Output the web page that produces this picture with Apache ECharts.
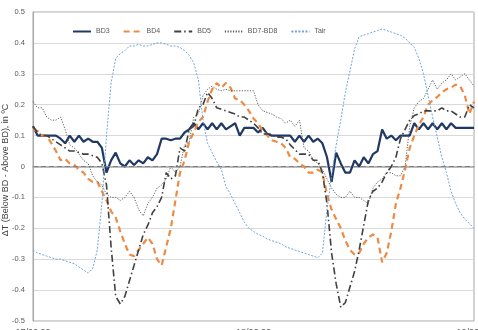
<!DOCTYPE html>
<html>
<head>
<meta charset="utf-8">
<script src="https://cdn.jsdelivr.net/npm/echarts@6/dist/echarts.min.js"></script>
<style>
  html, body { margin: 0; padding: 0; background: #fff; }
  #chart { width: 478px; height: 330px; }
</style>
</head>
<body>
<div id="chart"></div>
<script>
// half-hour samples over two days
var hours = Array.from({length: 97}, (_, i) => i * 0.5)
var xTickLabels = ['17/06 00', '18/06 00', '19/06 00']
var yTitle = 'ΔT (Below BD - Above BD), in ºC'

var bd3 = [0.13, 0.10, 0.10, 0.10, 0.10, 0.10, 0.09, 0.075, 0.10, 0.08, 0.10, 0.08, 0.09, 0.08, 0.08, 0.06,
  -0.02, 0.02, 0.045, 0.01, 0.0, 0.02, 0.005, 0.02, 0.01, 0.03, 0.02, 0.04, 0.09, 0.09, 0.085, 0.09,
  0.09, 0.11, 0.12, 0.14, 0.12, 0.14, 0.12, 0.14, 0.12, 0.14, 0.12, 0.13, 0.14, 0.10, 0.125, 0.125,
  0.125, 0.11, 0.125, 0.105, 0.10, 0.10, 0.10, 0.10, 0.10, 0.08, 0.10, 0.08, 0.10, 0.08, 0.09, 0.075,
  0.03, -0.05, 0.045, 0.01, -0.02, -0.02, 0.02, 0.0, 0.03, 0.01, 0.04, 0.05, 0.12, 0.09, 0.10, 0.085,
  0.10, 0.10, 0.10, 0.14, 0.12, 0.14, 0.12, 0.14, 0.12, 0.14, 0.12, 0.14, 0.125, 0.125, 0.125, 0.125, 0.125]

var bd4 = [0.12, 0.115, 0.10, 0.10, 0.075, 0.05, 0.02, 0.025, 0.01, 0.005, -0.01, -0.02, -0.04, -0.05, -0.05, -0.08,
  -0.11, -0.145, -0.165, -0.21, -0.25, -0.285, -0.29, -0.27, -0.25, -0.23, -0.25, -0.30, -0.32, -0.26, -0.20, -0.11,
  -0.02, 0.02, 0.08, 0.11, 0.145, 0.16, 0.21, 0.25, 0.27, 0.255, 0.27, 0.255, 0.22, 0.215, 0.20, 0.18,
  0.155, 0.14, 0.115, 0.10, 0.085, 0.08, 0.075, 0.06, 0.03, 0.025, 0.01, 0.0, -0.02, -0.02, -0.01, -0.02,
  -0.09, -0.14, -0.17, -0.20, -0.24, -0.27, -0.285, -0.28, -0.25, -0.23, -0.22, -0.23, -0.31, -0.28, -0.21, -0.12,
  -0.07, -0.01, 0.06, 0.10, 0.135, 0.16, 0.20, 0.215, 0.225, 0.24, 0.25, 0.255, 0.265, 0.26, 0.23, 0.17, 0.21]

var bd5 = [0.13, 0.11, 0.10, 0.10, 0.09, 0.08, 0.07, 0.06, 0.05, 0.05, 0.045, 0.04, 0.04, 0.035, 0.03, 0.01,
  -0.06, -0.26, -0.42, -0.445, -0.42, -0.37, -0.32, -0.27, -0.22, -0.19, -0.15, -0.13, -0.10, -0.02, -0.04, -0.03,
  0.06, 0.05, 0.12, 0.13, 0.19, 0.20, 0.24, 0.22, 0.19, 0.185, 0.18, 0.175, 0.17, 0.16, 0.16, 0.15,
  0.14, 0.125, 0.105, 0.105, 0.105, 0.095, 0.095, 0.09, 0.07, 0.055, 0.04, 0.04, 0.04, 0.02, 0.02, -0.02,
  -0.12, -0.28, -0.38, -0.455, -0.44, -0.39, -0.34, -0.27, -0.19, -0.11, -0.08, -0.07, -0.05, -0.02, 0.0, 0.03,
  0.09, 0.12, 0.15, 0.165, 0.17, 0.18, 0.18, 0.18, 0.18, 0.19, 0.18, 0.18, 0.17, 0.16, 0.16, 0.20, 0.19]

var bd78 = [0.21, 0.19, 0.19, 0.16, 0.15, 0.15, 0.16, 0.12, 0.07, 0.06, 0.04, 0.02, 0.01, -0.03, -0.05, -0.06,
  -0.09, -0.10, -0.10, -0.11, -0.10, -0.08, -0.10, -0.14, -0.16, -0.12, -0.10, -0.07, -0.06, -0.04, 0.0, -0.02,
  0.0, 0.07, 0.08, 0.16, 0.17, 0.23, 0.25, 0.26, 0.25, 0.245, 0.25, 0.245, 0.245, 0.245, 0.245, 0.245,
  0.245, 0.20, 0.18, 0.175, 0.17, 0.16, 0.155, 0.14, 0.15, 0.13, 0.15, 0.06, 0.05, 0.02, 0.01, -0.01,
  -0.04, -0.07, -0.09, -0.10, -0.10, -0.08, -0.10, -0.10, -0.11, -0.12, -0.07, -0.05, -0.04, -0.02, -0.02, -0.03,
  -0.03, 0.0, 0.13, 0.19, 0.21, 0.22, 0.25, 0.28, 0.25, 0.27, 0.28, 0.30, 0.28, 0.29, 0.30, 0.28, 0.26]

var tair = [-0.27, -0.28, -0.285, -0.29, -0.295, -0.30, -0.30, -0.305, -0.31, -0.315, -0.325, -0.335, -0.345, -0.33, -0.27, -0.12,
  0.10, 0.27, 0.35, 0.365, 0.375, 0.39, 0.39, 0.395, 0.39, 0.39, 0.395, 0.40, 0.40, 0.395, 0.39, 0.39,
  0.385, 0.375, 0.36, 0.335, 0.28, 0.15, 0.075, 0.045, 0.015, -0.01, -0.065, -0.09, -0.12, -0.15, -0.18, -0.20,
  -0.21, -0.22, -0.225, -0.235, -0.24, -0.245, -0.25, -0.26, -0.265, -0.27, -0.275, -0.28, -0.285, -0.29, -0.295, -0.28,
  -0.14, -0.03, 0.07, 0.15, 0.24, 0.31, 0.38, 0.42, 0.425, 0.43, 0.435, 0.44, 0.445, 0.44, 0.435, 0.43,
  0.425, 0.415, 0.40, 0.385, 0.35, 0.30, 0.23, 0.16, 0.095, 0.03, -0.02, -0.08, -0.12, -0.15, -0.17, -0.185, -0.20]

function pairs(vals) {
  return hours.map((h, i) => [h, vals[i]])
}

var chart = echarts.init(document.getElementById('chart'))

var font = 'Liberation Sans'

var option = {
  animation: false,
  grid: {
    left: 33, right: 4, top: 12, bottom: 9,
    outerBoundsMode: 'none',
    show: true, borderColor: '#a6a6a6', borderWidth: 1
  },
  // y axis title as rotated text at the far left
  graphic: [{
    type: 'text',
    x: 6,
    y: 170,
    rotation: Math.PI / 2,
    style: {
      text: yTitle,
      fill: '#404040',
      font: '9px "Liberation Sans"',
      align: 'center',
      verticalAlign: 'middle'
    }
  }],
  legend: {
    left: 67,
    top: 23,
    itemWidth: 18,
    itemHeight: 8,
    itemGap: 13,
    itemStyle: {opacity: 0},
    textStyle: {fontSize: 7, color: '#595959', fontFamily: font},
    data: ['BD3', 'BD4', 'BD5', 'BD7-BD8', 'Tair']
  },
  xAxis: {
    type: 'value',
    min: 0,
    max: 48,
    interval: 24,
    axisLine: {show: true, lineStyle: {color: '#a6a6a6', width: 1.5}},
    axisTick: {show: false},
    splitLine: {show: false},
    axisLabel: {
      margin: 7,
      fontSize: 9,
      color: '#595959',
      fontFamily: font,
      formatter: v => xTickLabels[v / 24]
    }
  },
  yAxis: {
    type: 'value',
    min: -0.5,
    max: 0.5,
    interval: 0.1,
    axisLine: {show: true, lineStyle: {color: '#a6a6a6'}},
    axisTick: {show: false},
    splitLine: {lineStyle: {color: '#d9d9d9', width: 1}},
    axisLabel: {
      margin: 8,
      fontSize: 7.5,
      color: '#595959',
      fontFamily: font,
      formatter: v => String(parseFloat(v.toFixed(1)))
    }
  },
  series: [
    {
      name: 'BD3', type: 'line', symbol: 'none', data: pairs(bd3),
      lineStyle: {color: '#1f3864', width: 2.2},
      itemStyle: {color: '#1f3864'},
      markLine: {
        silent: true, symbol: 'none', label: {show: false},
        lineStyle: {color: '#808080', type: [5, 3], width: 1.2},
        data: [{yAxis: 0}]
      }
    },
    {
      name: 'BD4', type: 'line', symbol: 'none', data: pairs(bd4),
      lineStyle: {color: '#ed8b45', width: 2.2, type: [6, 4]},
      itemStyle: {color: '#ed8b45'}
    },
    {
      name: 'BD5', type: 'line', symbol: 'none', data: pairs(bd5),
      lineStyle: {color: '#404040', width: 1.6, type: [7, 3, 1.5, 3]},
      itemStyle: {color: '#404040'}
    },
    {
      name: 'BD7-BD8', type: 'line', symbol: 'none', data: pairs(bd78),
      lineStyle: {color: '#595959', width: 1, type: [1.2, 1.5]},
      itemStyle: {color: '#595959'}
    },
    {
      name: 'Tair', type: 'line', symbol: 'none', data: pairs(tair),
      lineStyle: {color: '#6fa3d8', width: 1, type: [2, 1.5]},
      itemStyle: {color: '#6fa3d8'}
    }
  ]
}

chart.setOption(option)
</script>
</body>
</html>
